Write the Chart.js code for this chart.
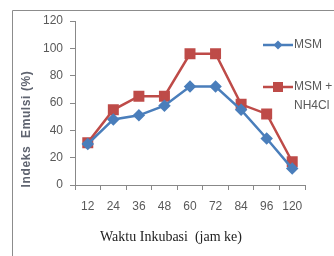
<!DOCTYPE html>
<html><head><meta charset="utf-8">
<script src="https://cdn.jsdelivr.net/npm/chart.js@4"></script>
<style>html,body{margin:0;padding:0;background:#fff}#wrap{width:334px;height:256px;position:relative}</style>
</head><body><div id="wrap"><canvas id="c" width="334" height="256"></canvas></div>
<script>
const categories = ['12','24','36','48','60','72','84','96','120'];
const msm = [30, 48, 51, 58, 72, 72, 55, 34, 12];
const msmNH4Cl = [31, 55, 65, 65, 96, 96, 59, 52, 17];
const yTicks = [0, 20, 40, 60, 80, 100, 120];
const seriesNames = ['MSM', ['MSM +', 'NH4Cl']];
const xTitle = 'Waktu Inkubasi  (jam ke)';
const yTitle = 'Indeks  Emulsi (%)';

const BLUE = '#4a7ebb', RED = '#be4b48', AX = '#888888', TXT = '#595959';

const decor = {
  id: 'decor',
  beforeDraw(chart) {
    const ctx = chart.ctx;
    ctx.save();
    ctx.strokeStyle = '#8c8c8c'; ctx.lineWidth = 1;
    ctx.beginPath(); ctx.moveTo(12.5, 256); ctx.lineTo(12.5, 10.5); ctx.lineTo(334, 10.5); ctx.stroke();
    ctx.restore();
  },
  afterDraw(chart) {
    const ctx = chart.ctx;
    ctx.save();
    // y title
    ctx.fillStyle = '#5f6470';
    ctx.font = 'bold 12px "Liberation Sans", Arial, sans-serif';
    ctx.letterSpacing = '0.6px';
    ctx.textAlign = 'center'; ctx.textBaseline = 'middle';
    ctx.translate(27, 129); ctx.rotate(-Math.PI / 2);
    ctx.fillText(yTitle, 0, 0);
    ctx.setTransform(1, 0, 0, 1, 0, 0);
    ctx.letterSpacing = '0px';
    // x title
    ctx.fillStyle = '#222';
    ctx.font = '14px "Liberation Serif", "Times New Roman", serif';
    ctx.fillText(xTitle, 171, 237);
    // legend
    const items = [
      {ds: chart.data.datasets[0], y: 45, name: seriesNames[0]},
      {ds: chart.data.datasets[1], y: 87, name: seriesNames[1]}
    ];
    items.forEach(it => {
      ctx.strokeStyle = it.ds.borderColor; ctx.lineWidth = 2.5;
      ctx.beginPath(); ctx.moveTo(263, it.y); ctx.lineTo(293, it.y); ctx.stroke();
      ctx.fillStyle = it.ds.backgroundColor;
      if (it.ds.pointStyle === 'rectRot') {
        ctx.beginPath(); ctx.moveTo(278, it.y - 4.5); ctx.lineTo(282.5, it.y); ctx.lineTo(278, it.y + 4.5); ctx.lineTo(273.5, it.y); ctx.closePath(); ctx.fill();
      } else {
        ctx.fillRect(273, it.y - 5, 10, 10);
      }
      ctx.fillStyle = TXT; ctx.font = '12px "Liberation Sans", Arial, sans-serif';
      ctx.textAlign = 'left'; ctx.textBaseline = 'middle';
      const lines = Array.isArray(it.name) ? it.name : [it.name];
      lines.forEach((l, i) => ctx.fillText(l, 294, it.y + i * 19));
    });
    ctx.restore();
  }
};

new Chart(document.getElementById('c'), {
  type: 'line',
  data: {
    labels: categories,
    datasets: [
      {label: 'MSM', data: msm, borderColor: BLUE, backgroundColor: BLUE, borderWidth: 2.5,
       pointStyle: 'rectRot', pointRadius: 4.5, pointHoverRadius: 4.5, tension: 0},
      {label: 'MSM + NH4Cl', data: msmNH4Cl, borderColor: RED, backgroundColor: RED, borderWidth: 2.5,
       pointStyle: 'rect', pointRadius: 6, pointHoverRadius: 6, tension: 0}
    ]
  },
  options: {
    responsive: false, animation: false,
    layout: {padding: {top: 21, right: 29, left: 0, bottom: 0}},
    plugins: {legend: {display: false}, tooltip: {enabled: false}},
    scales: {
      x: {
        offset: true,
        grid: {display: true, drawOnChartArea: false, offset: true, tickLength: 5, color: AX},
        border: {display: true, color: AX},
        ticks: {color: TXT, font: {size: 12, family: '"Liberation Sans", Arial, sans-serif'}, padding: 9, maxRotation: 0, autoSkip: false},
        afterFit(s) { s.height = 71; }
      },
      y: {
        min: 0, max: 120,
        afterBuildTicks(s) { s.ticks = yTicks.map(v => ({value: v})); },
        grid: {display: true, drawOnChartArea: false, tickLength: 5, color: AX},
        border: {display: true, color: AX},
        ticks: {color: TXT, font: {size: 12, family: '"Liberation Sans", Arial, sans-serif'}, padding: 7},
        afterFit(s) { s.width = 75; }
      }
    }
  },
  plugins: [decor]
});
</script></body></html>
